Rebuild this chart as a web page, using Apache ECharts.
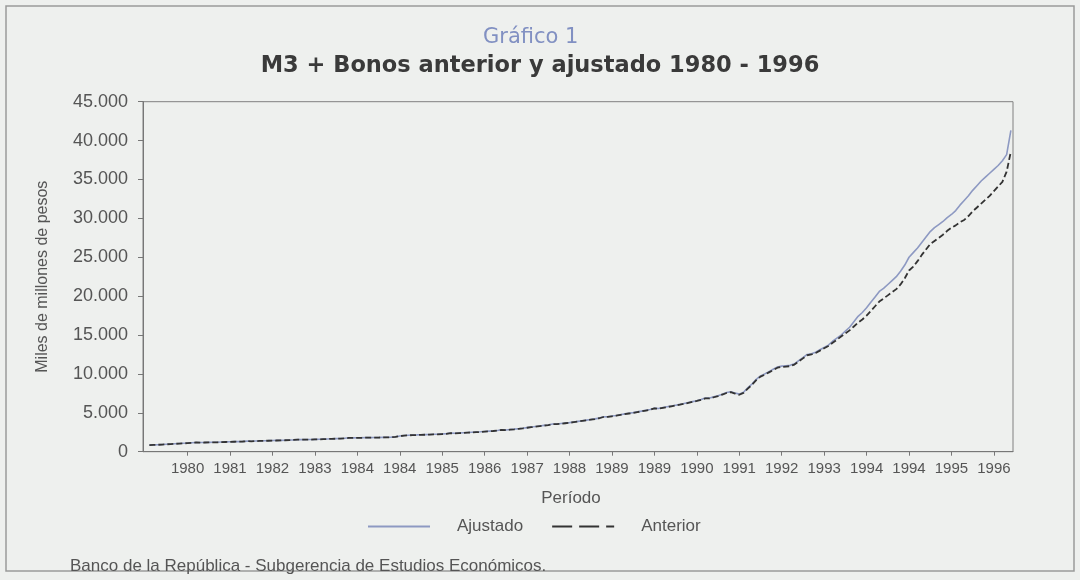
<!DOCTYPE html>
<html>
<head>
<meta charset="utf-8">
<script src="https://cdn.jsdelivr.net/npm/echarts@6/dist/echarts.min.js"></script>
<style>
html,body{margin:0;padding:0;background:#eef0ee;}
#c{width:1080px;height:580px;}
</style>
</head>
<body>
<div id="c"></div>
<script>
// Axis tick labels as printed (one every 10 months)
var tickLabels = ["1980","1981","1982","1983","1984","1984","1985","1986","1987","1988",
                  "1989","1989","1990","1991","1992","1993","1994","1994","1995","1996"];

// Monthly periods: Dec 1979 (empty slot) .. Dec 1996
var months = [];
for (var y = 1979; y <= 1996; y++) {
  for (var m = 1; m <= 12; m++) {
    if (y === 1979 && m < 12) continue;
    months.push(y + "-" + (m < 10 ? "0" + m : m));
  }
}

// Miles de millones de pesos, monthly Jan 1980 .. Dec 1996 (first slot empty)
var ajustado = [null,
  860, 880, 900, 930, 960, 990, 1020, 1050, 1080, 1110, 1150, 1190,
  1180, 1190, 1200, 1210, 1220, 1240, 1260, 1280, 1290, 1300, 1320, 1360,
  1350, 1370, 1390, 1410, 1420, 1440, 1450, 1460, 1480, 1500, 1520, 1560,
  1550, 1560, 1570, 1590, 1600, 1620, 1640, 1660, 1680, 1700, 1730, 1790,
  1780, 1790, 1800, 1810, 1815, 1820, 1830, 1840, 1850, 1870, 1920, 2020,
  2080, 2120, 2150, 2160, 2180, 2200, 2220, 2240, 2260, 2290, 2320, 2400,
  2380, 2410, 2440, 2470, 2500, 2530, 2560, 2600, 2640, 2680, 2730, 2820,
  2800, 2850, 2900, 2960, 3020, 3100, 3170, 3240, 3310, 3380, 3440, 3560,
  3560, 3620, 3680, 3740, 3820, 3900, 3980, 4060, 4140, 4220, 4320, 4480,
  4500, 4580, 4660, 4760, 4860, 4940, 5020, 5120, 5220, 5320, 5420, 5600,
  5560, 5680, 5780, 5880, 5980, 6080, 6200, 6320, 6440, 6560, 6700, 6900,
  6900, 7050, 7200, 7400, 7600, 7710, 7550, 7400, 7650, 8200, 8700, 9300,
  9750, 10000, 10300, 10600, 10900, 11000, 11050, 11100, 11300, 11700, 12100, 12500,
  12600, 12800, 13100, 13400, 13700, 14200, 14600, 15000, 15500, 16000, 16700, 17400,
  17900, 18500, 19200, 19900, 20600, 21000, 21500, 22000, 22500, 23200, 24000, 25000,
  25600, 26200, 26900, 27600, 28300, 28800, 29200, 29600, 30100, 30500, 31000, 31700,
  32300, 32900, 33600, 34200, 34800, 35300, 35800, 36300, 36800, 37400, 38200, 41300
];

var anterior = [null,
  850, 870, 890, 920, 950, 980, 1010, 1040, 1070, 1100, 1140, 1180,
  1170, 1180, 1190, 1200, 1210, 1230, 1250, 1270, 1280, 1290, 1310, 1350,
  1340, 1360, 1380, 1400, 1410, 1430, 1440, 1450, 1470, 1490, 1510, 1550,
  1540, 1550, 1560, 1580, 1590, 1610, 1630, 1650, 1670, 1690, 1720, 1780,
  1770, 1780, 1790, 1800, 1805, 1810, 1820, 1830, 1840, 1860, 1900, 2000,
  2060, 2100, 2130, 2140, 2160, 2180, 2200, 2220, 2240, 2270, 2300, 2380,
  2360, 2390, 2420, 2450, 2480, 2510, 2540, 2580, 2620, 2660, 2710, 2800,
  2780, 2830, 2880, 2940, 3000, 3080, 3150, 3220, 3290, 3360, 3420, 3540,
  3540, 3600, 3660, 3720, 3800, 3880, 3960, 4040, 4120, 4200, 4300, 4460,
  4470, 4550, 4630, 4730, 4830, 4910, 4990, 5090, 5190, 5290, 5390, 5570,
  5520, 5640, 5740, 5840, 5940, 6040, 6160, 6280, 6400, 6520, 6660, 6860,
  6850, 7000, 7150, 7350, 7550, 7650, 7480, 7320, 7560, 8100, 8600, 9200,
  9650, 9900, 10200, 10500, 10800, 10900, 10950, 11000, 11200, 11600, 12000, 12400,
  12500, 12700, 13000, 13300, 13600, 14000, 14400, 14800, 15200, 15600, 16100, 16600,
  17000, 17500, 18100, 18700, 19300, 19700, 20100, 20500, 20900, 21500, 22300, 23300,
  23800, 24500, 25300, 26000, 26700, 27100, 27500, 27900, 28400, 28800, 29100, 29500,
  29800, 30300, 30900, 31400, 31900, 32400, 32900, 33500, 34100, 34700, 36000, 38600
];

var seriesNames = ["Ajustado", "Anterior"];
var titleSmall = "Gráfico 1";
var titleMain = "M3 + Bonos anterior y ajustado 1980 - 1996";
var sourceText = "Banco de la República - Subgerencia de Estudios Económicos.";

var sans = "'Liberation Sans',Arial,sans-serif";
var wide = "'DejaVu Sans',sans-serif";

function fmtThousands(v) {
  var s = String(Math.round(v));
  return s.replace(/\B(?=(\d{3})+(?!\d))/g, ".");
}
function isTick(idx) { return idx > 0 && idx % 10 === 0; }

var chart = echarts.init(document.getElementById('c'), null, {renderer: 'canvas'});
chart.setOption({
  animation: false,
  backgroundColor: '#eef0ee',
  title: [
    {text: titleSmall, left: 478, top: 22,
     textStyle: {fontFamily: wide, fontSize: 21, fontWeight: 'normal', color: '#8190c2'}},
    {text: titleMain, left: 'center', top: 50,
     textStyle: {fontFamily: wide, fontSize: 22.5, fontWeight: 'bold', color: '#3a3a3a'}}
  ],
  grid: {left: 143, right: 67, top: 101.7, bottom: 128.3, show: true,
         borderColor: '#808080', borderWidth: 1, backgroundColor: 'transparent'},
  legend: {
    left: 362, top: 513,
    itemWidth: 62, itemHeight: 12, itemGap: 28,
    itemStyle: {opacity: 0},
    textStyle: {fontFamily: sans, fontSize: 17, color: '#555', padding: [0, 0, 0, 22]},
    data: [
      {name: seriesNames[0]},
      {name: seriesNames[1], lineStyle: {type: [20, 7], width: 2, color: '#333333'}}
    ]
  },
  xAxis: {
    type: 'category', data: months, boundaryGap: true,
    name: 'Período', nameLocation: 'middle', nameGap: 38,
    nameTextStyle: {fontFamily: sans, fontSize: 17, color: '#555', padding: [0, 14, 0, 0]},
    axisLine: {lineStyle: {color: '#777', width: 1}},
    axisTick: {show: true, alignWithLabel: true, interval: function (i) { return isTick(i); },
               length: 4, lineStyle: {color: '#777'}},
    axisLabel: {interval: function (i) { return isTick(i); }, margin: 10,
                fontFamily: sans, fontSize: 15, color: '#555',
                formatter: function (v, i) { return isTick(i) ? tickLabels[i / 10 - 1] : ''; }},
    splitLine: {show: false}
  },
  yAxis: {
    type: 'value', min: 0, max: 45000, interval: 5000,
    name: 'Miles de millones de pesos', nameLocation: 'middle', nameRotate: 90, nameGap: 92,
    nameTextStyle: {fontFamily: sans, fontSize: 16, color: '#555'},
    axisLine: {show: true, lineStyle: {color: '#777', width: 1}},
    axisTick: {show: true, length: 5, lineStyle: {color: '#777'}},
    axisLabel: {fontFamily: sans, fontSize: 18, color: '#555', margin: 15,
                formatter: function (v) { return fmtThousands(v); }},
    splitLine: {show: false}
  },
  series: [
    {name: seriesNames[0], type: 'line', data: ajustado, showSymbol: false, symbol: 'none',
     lineStyle: {color: '#8d99c2', width: 1.6}, itemStyle: {color: '#8d99c2'}},
    {name: seriesNames[1], type: 'line', data: anterior, showSymbol: false, symbol: 'none',
     lineStyle: {color: '#333333', width: 1.8, type: [6, 3]}, itemStyle: {color: '#333333'}}
  ],
  graphic: [
    {type: 'rect', shape: {x: 6, y: 6, width: 1068, height: 565},
     style: {fill: 'none', stroke: '#9a9a9a', lineWidth: 1.5}, silent: true},
    {type: 'text', left: 70, top: 558,
     style: {text: sourceText, fontFamily: sans, fontSize: 17, fill: '#555'}}
  ]
});
</script>
</body>
</html>
